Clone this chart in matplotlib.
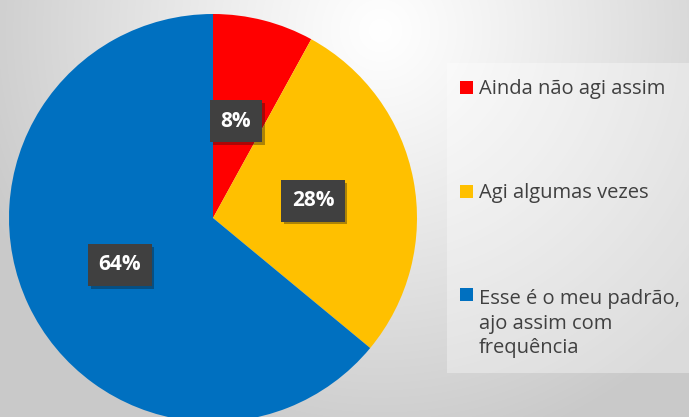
import numpy as np
import matplotlib.pyplot as plt
import matplotlib.patheffects as pe
from matplotlib.patches import Rectangle

labels = ['Ainda não agi assim', 'Agi algumas vezes', 'Esse é o meu padrão,\najo assim com\nfrequência']
values = [8, 28, 64]
colors = ['#ff0000', '#ffc000', '#0070c0']

W, H = 689, 417
fig = plt.figure(figsize=(W / 100, H / 100), dpi=100)

# background radial gradient
bg = fig.add_axes([0, 0, 1, 1])
yy, xx = np.mgrid[0:H, 0:W]
d = np.sqrt((xx - 380) ** 2 + (yy - 30) ** 2)
g = 1 - 0.21 * np.clip(d / 430, 0, 1) ** 1.1
bg.imshow(np.dstack([g, g, g]), extent=[0, W, H, 0], aspect='auto')
bg.set_xlim(0, W)
bg.set_ylim(H, 0)
bg.axis('off')

# lighter legend panel
bg.add_patch(Rectangle((447, 63), 242, 310, facecolor='white', alpha=0.35, edgecolor='none'))

# pie
cx, cy, r = 213, 218, 204
ax = fig.add_axes([(cx - r) / W, (H - cy - r) / H, 2 * r / W, 2 * r / H])
wedges, texts, autotexts = ax.pie(values, colors=colors, startangle=90, counterclock=False,
                                  autopct='%d%%', pctdistance=0.5,
                                  textprops=dict(color='white', fontsize=15, fontweight='bold',
                                                 family='Open Sans'))
autotexts[0].set_position((0.113, 0.475))
autotexts[1].set_position((0.49, 0.085))
autotexts[2].set_position((-0.456, -0.23))
for t in autotexts:
    t.set_bbox(dict(boxstyle='square,pad=0.5', facecolor='#404040', edgecolor='none'))
    t.get_bbox_patch().set_path_effects([pe.SimplePatchShadow(offset=(2, -2), alpha=0.35), pe.Normal()])
ax.set_xlim(-1, 1)
ax.set_ylim(-1, 1)
ax.axis('off')

# legend
rows = [94, 198, 301]
step = 26
for lab, col, y in zip(labels, colors, rows):
    n = lab.count('\n')
    bg.add_patch(Rectangle((460, y - 13), 13, 13, facecolor=col, edgecolor='none'))
    bg.text(479, y + n * step, lab, fontsize=14.5, color='#404040', family='Open Sans',
            va='baseline', ha='left', linespacing=1.3)

plt.savefig('out.png', dpi=100)
